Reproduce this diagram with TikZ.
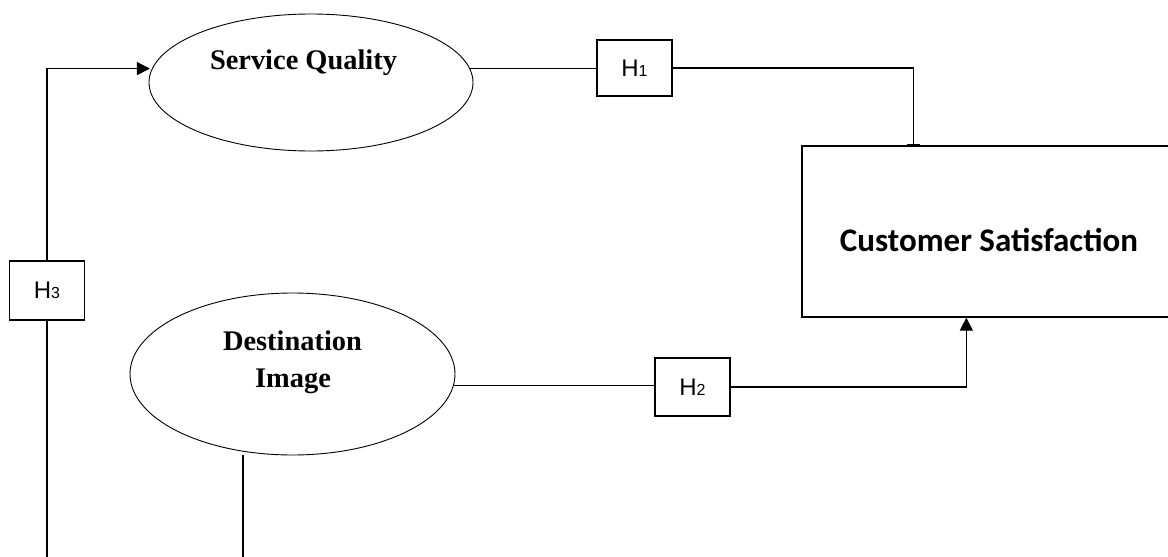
\documentclass[tikz,border=0pt]{standalone}
\usepackage{fontspec}
\setmainfont{Liberation Serif}
\newfontfamily\arialf{Liberation Sans}
\newfontfamily\calib{Carlito}
\usetikzlibrary{shapes.geometric,arrows.meta}
\newcommand\hdig[1]{{\fontsize{16}{16}\selectfont #1}}
\begin{document}
\begin{tikzpicture}[x=1pt,y=-1pt,
 conn/.style={line width=1.3pt},
 ell/.style={draw, ellipse, line width=0.9pt, inner sep=0pt},
 hbox/.style={draw, fill=white, line width=1.3pt, minimum width=75pt, inner sep=0pt, font=\arialf\fontsize{24}{24}\selectfont},
 sertxt/.style={font=\bfseries\fontsize{28.4}{30}\selectfont, anchor=base, inner sep=0pt},
 tip/.style={-{Triangle[length=13pt,width=13pt]}}]
\useasboundingbox (0,0) rectangle (1168,557);
% ellipses
\node[ell, minimum width=324pt, minimum height=137pt] (SQ) at (311,82.5) {};
\node[sertxt] (SQt) at (303.5,69) {Service Quality};
\node[ell, minimum width=325pt, minimum height=162pt] (DI) at (292.5,374) {};
\node[sertxt] (DIt1) at (292.5,350) {Destination};
\node[sertxt] (DIt2) at (293,387) {Image};
% outcome box
\node[draw, line width=1.3pt, minimum width=374pt, minimum height=171pt, inner sep=0pt] (CS) at (989,231.5) {};
\node[font=\calib\bfseries\fontsize{33}{33}\selectfont, anchor=base, inner sep=0pt] (CSt) at (989,251) {Customer Satisfaction};
% hypothesis boxes
\node[hbox, minimum height=56pt] (H1) at (634.5,68) {H\hdig{1}\hspace{10pt}};
\node[hbox, minimum height=58pt] (H2) at (692.5,387) {H\hdig{2}\hspace{10pt}};
\node[hbox, minimum height=59pt] (H3) at (47,290.5) {H\hdig{3}\hspace{10pt}};
% free ends at bottom
\coordinate (b3) at (47,557);
\coordinate (bD) at (243,557);
% connectors
\draw[conn] (b3) -- (H3.south);
\draw[conn, tip, shorten >=2pt] (H3.north) |- (SQ.175);
\draw[conn] (SQ.5) -- (SQ.5 -| H1.west);
\draw[conn, -{Bar[width=13pt,line width=1.8pt]}] (H1.east) -| ([xshift=112pt]CS.north west);
\draw[conn] (DI.-4) -- (DI.-4 -| H2.west);
\draw[conn, tip] (H2.east) -| ([xshift=165pt]CS.south west);
\draw[conn] (DI.south -| bD) -- (bD);
\end{tikzpicture}
\end{document}
